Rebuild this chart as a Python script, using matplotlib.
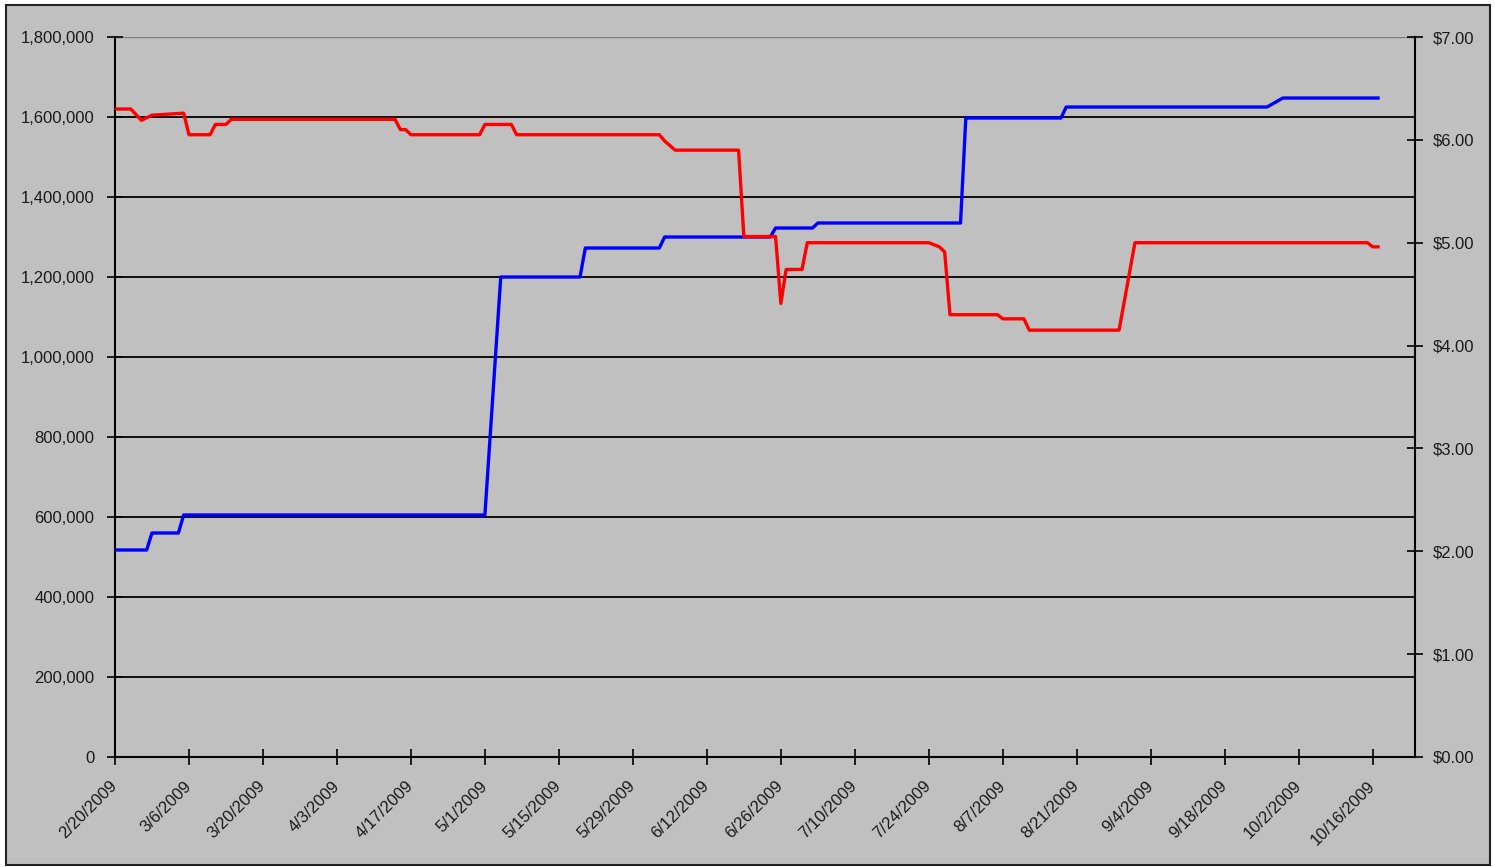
import matplotlib
matplotlib.use('Agg')
import matplotlib.pyplot as plt
from matplotlib.patches import Rectangle
from matplotlib.ticker import FuncFormatter
import pandas as pd

# blue line, left axis
share_dates = ['2009-02-20', '2009-02-26', '2009-02-27', '2009-03-04', '2009-03-05',
               '2009-05-01', '2009-05-04', '2009-05-19', '2009-05-20', '2009-06-03',
               '2009-06-04', '2009-06-24', '2009-06-25', '2009-07-02', '2009-07-03',
               '2009-07-30', '2009-07-31', '2009-08-18', '2009-08-19', '2009-09-26',
               '2009-09-29', '2009-10-17']
shares = [517500, 517500, 560000, 560000, 605000,
          605000, 1200000, 1200000, 1272500, 1272500,
          1300000, 1300000, 1322500, 1322500, 1335000,
          1335000, 1597500, 1597500, 1625000, 1625000,
          1647500, 1647500]

# red line, right axis
price_dates = ['2009-02-20', '2009-02-23', '2009-02-25', '2009-02-27', '2009-03-05',
               '2009-03-06', '2009-03-10', '2009-03-11', '2009-03-13', '2009-03-14',
               '2009-04-14', '2009-04-15', '2009-04-16', '2009-04-17', '2009-04-30',
               '2009-05-01', '2009-05-06', '2009-05-07', '2009-06-03', '2009-06-04',
               '2009-06-06', '2009-06-18', '2009-06-19', '2009-06-25', '2009-06-26',
               '2009-06-27', '2009-06-30', '2009-07-01', '2009-07-24', '2009-07-26',
               '2009-07-27', '2009-07-28', '2009-08-06', '2009-08-07', '2009-08-11',
               '2009-08-12', '2009-08-29', '2009-09-01', '2009-10-15', '2009-10-16',
               '2009-10-17']
prices = [6.30, 6.30, 6.19, 6.24, 6.26,
          6.05, 6.05, 6.15, 6.15, 6.20,
          6.20, 6.10, 6.10, 6.05, 6.05,
          6.15, 6.15, 6.05, 6.05, 5.99,
          5.90, 5.90, 5.06, 5.06, 4.41,
          4.74, 4.74, 5.00, 5.00, 4.96,
          4.91, 4.30, 4.30, 4.26, 4.26,
          4.15, 4.15, 5.00, 5.00, 4.96,
          4.96]

left_ticks = [0, 200000, 400000, 600000, 800000, 1000000, 1200000, 1400000, 1600000, 1800000]
right_ticks = [0, 1, 2, 3, 4, 5, 6, 7]

plt.rcParams['font.family'] = ['Liberation Sans', 'DejaVu Sans']

fig = plt.figure(figsize=(14.95, 8.67), dpi=100, facecolor='white')
fig.patches.append(Rectangle((0.004, 0.002), 0.9926, 0.992, transform=fig.transFigure,
                             facecolor='#C0C0C0', edgecolor='#222222', linewidth=1.5, zorder=-10))
ax = fig.add_axes([0.0769, 0.1269, 0.8696, 0.8304])
ax.set_facecolor('none')

ax.plot(pd.to_datetime(share_dates), shares, color='#0000FF', linewidth=2.4, zorder=3)
ax.set_ylim(0, 1800000)
ax.set_yticks(left_ticks)
ax.yaxis.set_major_formatter(FuncFormatter(lambda v, p: f'{v:,.0f}'))
ax.yaxis.grid(True, color='black', linewidth=1.3)
# top gridline is lighter in the original
ax.get_ygridlines()[-1].set_color('#808080')
ax.get_ygridlines()[-1].set_linewidth(1.0)

tick_dates = pd.date_range('2009-02-20', '2009-10-16', freq='14D')
ax.set_xlim(pd.Timestamp('2009-02-20'), pd.Timestamp('2009-10-24'))
ax.set_xticks(tick_dates)
ax.set_xticklabels([f'{d.month}/{d.day}/{d.year}' for d in tick_dates],
                   rotation=45, ha='right', va='center', rotation_mode='anchor')
ax.tick_params(axis='x', direction='inout', length=12, width=1.2, pad=13, labelsize=12,
               labelcolor='#1a1a1a')
ax.tick_params(axis='y', direction='inout', length=12, width=1.2, pad=9, labelsize=12,
               labelcolor='#1a1a1a')

for s in ['top', 'right']:
    ax.spines[s].set_visible(False)
for s in ['left', 'bottom']:
    ax.spines[s].set_color('black')
    ax.spines[s].set_linewidth(1.5)

ax2 = ax.twinx()
ax2.plot(pd.to_datetime(price_dates), prices, color='#FF0000', linewidth=2.4, zorder=3)
ax2.set_ylim(0, 7)
ax2.set_yticks(right_ticks)
ax2.yaxis.set_major_formatter(FuncFormatter(lambda v, p: f'${v:.2f}'))
ax2.tick_params(axis='y', direction='inout', length=12, width=1.2, pad=7, labelsize=12,
                labelcolor='#1a1a1a')
for s in ['top', 'left', 'bottom']:
    ax2.spines[s].set_visible(False)
ax2.spines['right'].set_color('black')
ax2.spines['right'].set_linewidth(1.5)

fig.savefig('out.png', dpi=100, facecolor='white')
